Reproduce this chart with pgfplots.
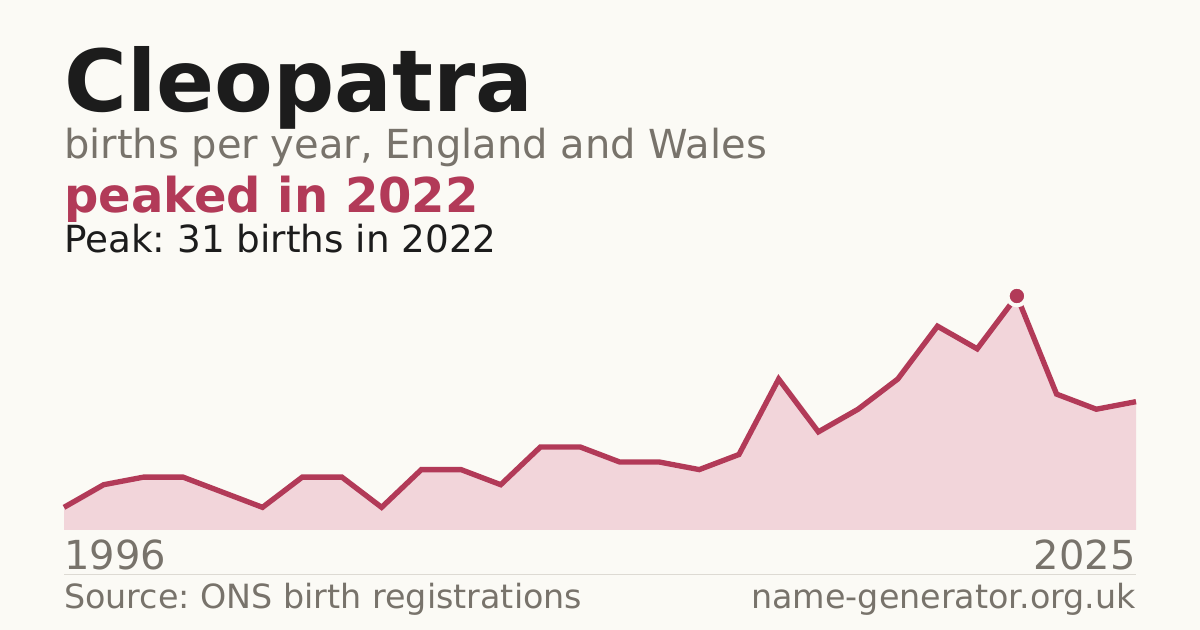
\documentclass[border=0pt]{standalone}
\usepackage{fontspec}
\setmainfont{DejaVu Sans}
\usepackage{pgfplots}
\pgfplotsset{compat=1.18}
\frenchspacing

\definecolor{bg}{HTML}{FBFAF5}
\definecolor{ink}{HTML}{1C1C1C}
\definecolor{muted}{HTML}{78736B}
\definecolor{rose}{HTML}{B23A58}
\definecolor{rosefill}{HTML}{F2D5DA}
\definecolor{rule}{HTML}{DDDAD3}

% births per year, index 0 = 1996
\pgfplotstableread{
idx births
0 3
1 6
2 7
3 7
4 5
5 3
6 7
7 7
8 3
9 8
10 8
11 6
12 11
13 11
14 9
15 9
16 8
17 10
18 20
19 13
20 16
21 20
22 27
23 24
24 31
25 18
26 16
27 17
}\births

\begin{document}
\begin{tikzpicture}
% canvas 1200 x 630 px (1px = 0.75pt), y measured from bottom
\fill[bg] (0pt,0pt) rectangle (900pt,472.5pt);

\begin{scope}[x=0.75pt,y=0.75pt]
\node[anchor=base west,inner sep=0,text=ink,font=\fontsize{64.2}{64.2}\selectfont\bfseries] at (64,630-112) {Cleopatra};
\node[anchor=base west,inner sep=0,text=muted,font=\fontsize{30}{30}\selectfont] at (64,630-159) {births per year, England and Wales};
\node[anchor=base west,inner sep=0,text=rose,font=\fontsize{36}{36}\selectfont\bfseries] at (64,630-213) {peaked in 2022};
\node[anchor=base west,inner sep=0,text=ink,font=\fontsize{28}{28}\selectfont] at (64,630-253) {Peak: 31 births in 2022};
\node[anchor=base west,inner sep=0,text=muted,font=\fontsize{30}{30}\selectfont] at (64,630-570) {1996};
\node[anchor=base east,inner sep=0,text=muted,font=\fontsize{30}{30}\selectfont] at (1136,630-570) {2025};
\draw[rule, line width=0.75pt] (64,630-574.5) -- (1136,630-574.5);
\node[anchor=base west,inner sep=0,text=muted,font=\fontsize{25}{25}\selectfont] at (64,630-609) {Source: ONS birth registrations};
\node[anchor=base east,inner sep=0,text=muted,font=\fontsize{25}{25}\selectfont] at (1136,630-609) {name-generator.org.uk};
\end{scope}

\begin{axis}[
    at={(48pt,75pt)}, anchor=south west,
    scale only axis,
    width=804pt, height=175.5pt,
    xmin=0, xmax=27,
    ymin=0, ymax=31,
    hide axis,
    clip=false
]
\addplot[draw=none, fill=rosefill] table[x=idx,y=births] {\births} \closedcycle;
\addplot[rose, line width=4pt, mark=none] table[x=idx,y=births] {\births};
\addplot[only marks, mark=*, mark size=7pt, mark options={fill=rose, draw=bg, line width=3pt}] coordinates {(24,31)};
\end{axis}
\end{tikzpicture}
\end{document}
